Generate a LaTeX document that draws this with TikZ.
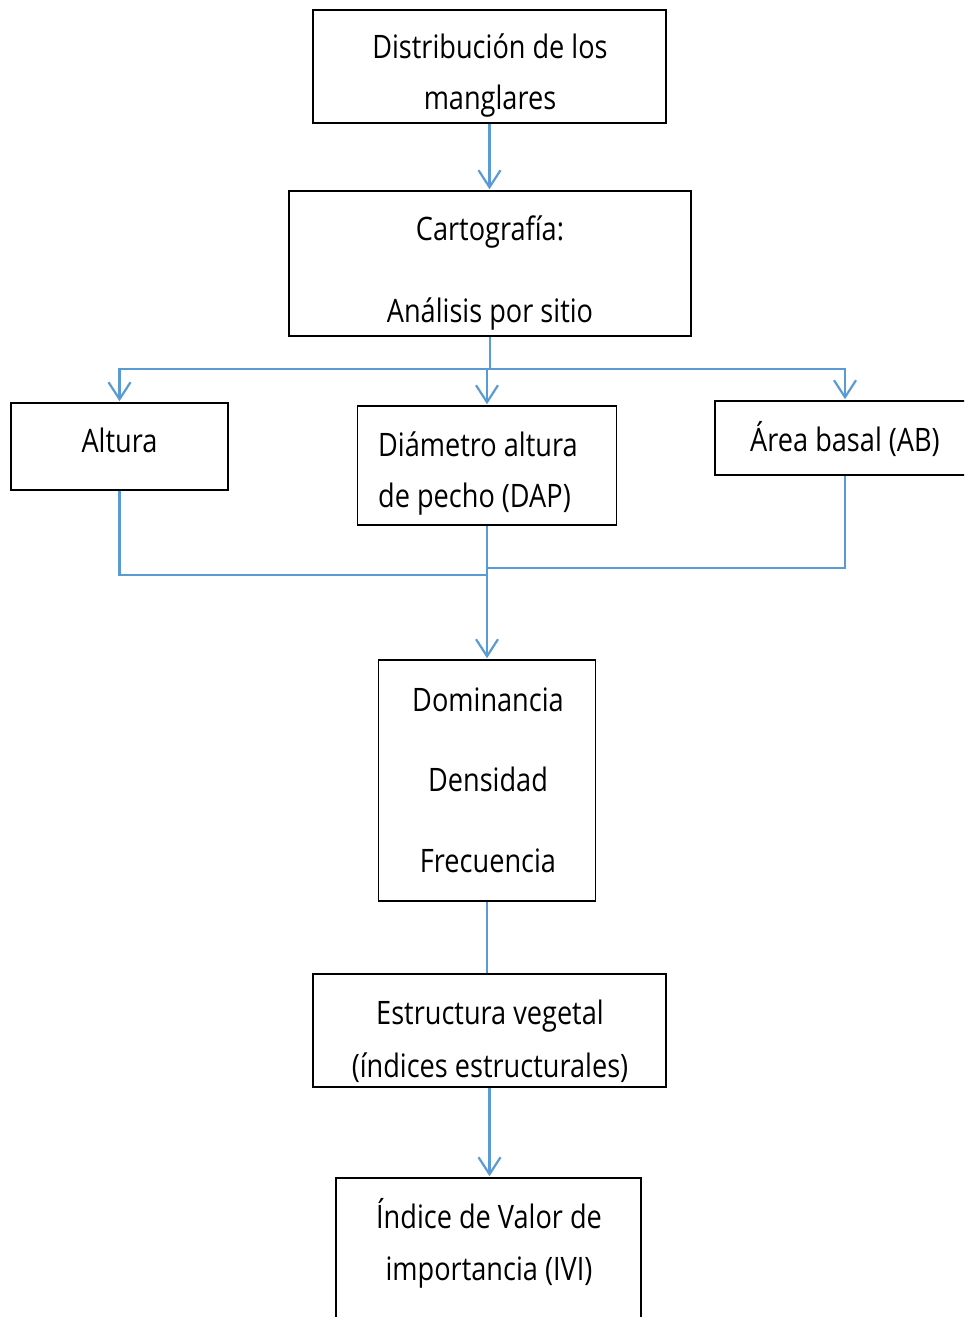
\documentclass[tikz,border=0pt]{standalone}
\usepackage{fontspec}
\setmainfont{Open Sans}[FakeStretch=0.84]
\usetikzlibrary{arrows.meta}
\definecolor{lnblue}{HTML}{5B9BD5}
\begin{document}
\begin{tikzpicture}[x=1pt,y=-1pt,
  box/.style={draw=black,line width=1.5pt,inner sep=0pt,minimum width=#1},
  lbl/.style={inner sep=0pt,anchor=base,font=\fontsize{32.3}{40}\selectfont},
  conn/.style={draw=lnblue,line width=2.2pt},
  arr/.style={conn,shorten >=1pt,-{Straight Barb[length=17pt,width=22pt,line width=2.2pt]}}]
\useasboundingbox (0,0) rectangle (964,1317);
\clip (0,0) rectangle (964,1317);
% boxes
\node[box=353pt,minimum height=113pt] (b1) at (489.5,66.5) {};
\node[box=402pt,minimum height=145pt] (b2) at (490,263.5) {};
\node[box=217pt,minimum height=87pt] (alt) at (119.5,446.5) {};
\node[box=259pt,minimum height=119pt] (dap) at (487,465.5) {};
\node[box=260pt,minimum height=74pt] (ab) at (845,438) {};
\node[box=217pt,minimum height=241pt] (dom) at (487,780.5) {};
\node[box=353pt,minimum height=113pt] (est) at (489.5,1030.5) {};
\node[box=305pt,minimum height=152pt] (ivi) at (488.5,1254) {};
% texts
\node[lbl] (t1a) at (490,58.5) {Distribución de los};
\node[lbl] (t1b) at (490,109.5) {manglares};
\node[lbl] (t2a) at (490,240.5) {Cartografía:};
\node[lbl] (t2b) at (490,322.5) {Análisis por sitio};
\node[lbl] (t3) at (119.5,452.5) {Altura};
\node[lbl,anchor=base west] (t4a) at (378,456.5) {Diámetro altura};
\node[lbl,anchor=base west] (t4b) at (378,507.5) {de pecho (DAP)};
\node[lbl] (t5) at (845,451.5) {Área basal (AB)};
\node[lbl] (t6a) at (488,711.5) {Dominancia};
\node[lbl] (t6b) at (488,791.5) {Densidad};
\node[lbl] (t6c) at (488,872.5) {Frecuencia};
\node[lbl] (t7a) at (490,1024.5) {Estructura vegetal};
\node[lbl] (t7b) at (490,1077.5) {(índices estructurales)};
\node[lbl] (t8a) at (489,1228.5) {Índice de Valor de};
\node[lbl] (t8b) at (489,1280.5) {importancia (IVI)};
% connectors
\coordinate (j1) at (490,369);
\coordinate (j2) at (487,575);
\coordinate (j3) at (487,568);
\draw[arr] (b1.south) -- (b1.south |- b2.north);
\draw[conn] (b2.south) -- (j1);
\draw[arr] (j1) -| (alt.north);
\draw[arr] (j1) -| (ab.north);
\draw[arr] (dap.north |- j1) -- (dap.north);
\draw[conn] (alt.south) |- (j2);
\draw[conn] (ab.south) |- (j3);
\draw[arr] (dap.south) -- (dom.north);
\draw[conn] (dom.south) -- (dom.south |- est.north);
\draw[arr,line width=3.2pt] (est.south) -- (est.south |- ivi.north);
\end{tikzpicture}
\end{document}
